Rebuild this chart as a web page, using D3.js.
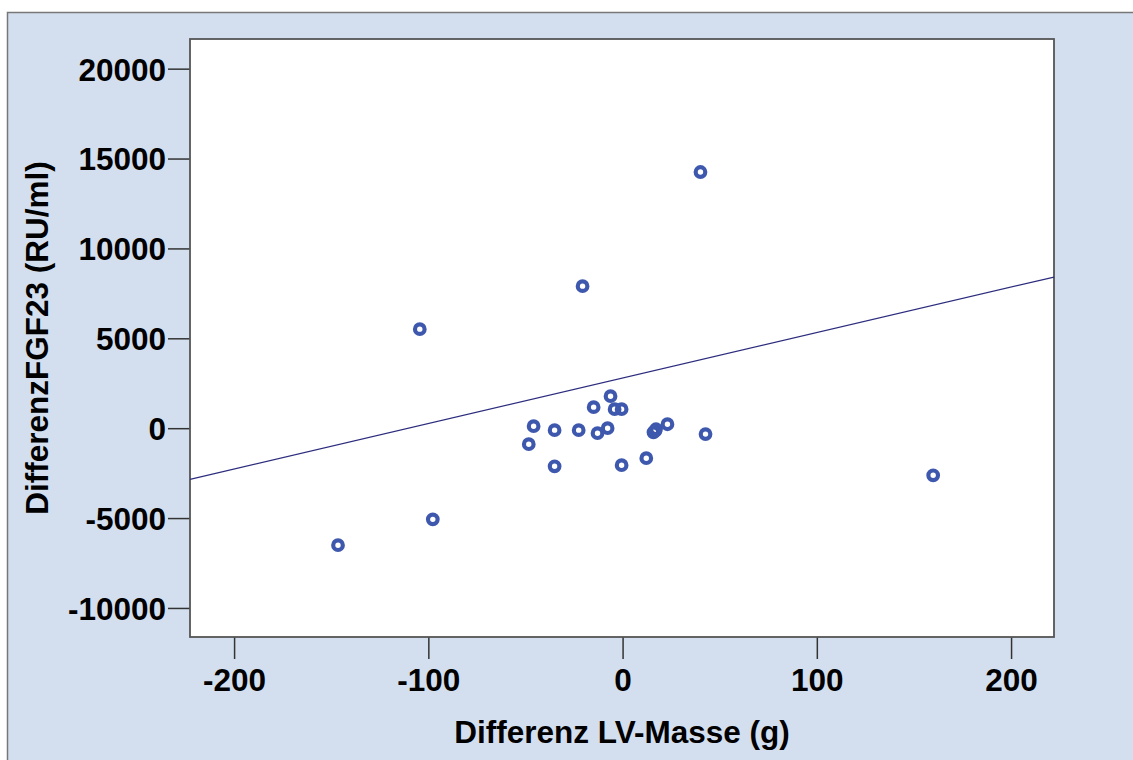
<!DOCTYPE html>
<html>
<head>
<meta charset="utf-8">
<script src="https://cdn.jsdelivr.net/npm/d3@7"></script>
<style>
  body { margin: 0; background: #fff; }
  text { font-family: "Liberation Sans", Arial, sans-serif; font-weight: bold; fill: #000; }
</style>
</head>
<body>
<svg id="chart" width="1133" height="760"></svg>
<script>
// values
const lvMass = [-146.5, -104.4, -97.7, -48.3, -45.8, -35, -35, -22.6, -20.6, -14.9,
  -12.9, -7.7, -6.2, -4.1, -0.5, -0.5, 12.2, 15.9, 17.2, 23.1, 40.1, 42.7, 159.9, 16.8];
const fgf23 = [-6510, 5510, -5070, -890, 110, -110, -2120, -110, 7900, 1170,
  -280, 0, 1780, 1060, 1060, -2060, -1670, -230, -60, 220, 14250, -330, -2620, -150];
const xTicks = [-200, -100, 0, 100, 200];
const yTicks = [-10000, -5000, 0, 5000, 10000, 15000, 20000];
const fitIntercept = 2790;
const fitSlope = 25.3;

const margin = {top: 39, right: 79, bottom: 123, left: 190};
const width = 1133 - margin.left - margin.right,
  height = 760 - margin.top - margin.bottom;
const fontSize = 31.5;

const svg = d3.select('#chart');

// outer panel
svg.append('rect')
  .attr('x', 7.5).attr('y', 12.5)
  .attr('width', 1140).attr('height', 760)
  .attr('fill', '#d3dfee')
  .attr('stroke', '#777').attr('stroke-width', 1.5);

const g = svg.append('g').attr('transform', 'translate(' + margin.left + ',' + margin.top + ')');

const x = d3.scaleLinear().domain([-222.7, 222.1]).range([0, width]);
const y = d3.scaleLinear().domain([-11616, 21650]).range([height, 0]);

g.append('rect')
  .attr('width', width).attr('height', height)
  .attr('fill', '#fff');

// axes (plain hyphen for negatives, like the original)
const fmt = d => String(d);
const xAxis = g.append('g')
  .attr('transform', 'translate(0,' + height + ')')
  .call(d3.axisBottom(x).tickValues(xTicks).tickSize(22).tickPadding(10).tickFormat(fmt));
const yAxis = g.append('g')
  .call(d3.axisLeft(y).tickValues(yTicks).tickSize(22).tickPadding(2).tickFormat(fmt));

[xAxis, yAxis].forEach(a => {
  a.select('.domain').remove();
  a.selectAll('line').attr('stroke', '#333').attr('stroke-width', 1.5);
  a.selectAll('text').attr('font-size', fontSize).attr('font-family', null).attr('fill', '#000');
});
yAxis.selectAll('text').attr('dy', '0.36em');

// frame
g.append('rect')
  .attr('width', width).attr('height', height)
  .attr('fill', 'none')
  .attr('stroke', '#555').attr('stroke-width', 1.8);

// fit line
g.append('line')
  .attr('x1', x(x.domain()[0])).attr('y1', y(fitIntercept + fitSlope * x.domain()[0]))
  .attr('x2', x(x.domain()[1])).attr('y2', y(fitIntercept + fitSlope * x.domain()[1]))
  .attr('stroke', '#2c2c7e').attr('stroke-width', 1.3);

// points
g.selectAll('circle.pt')
  .data(lvMass.map((v, i) => [v, fgf23[i]]))
  .enter().append('circle')
    .attr('class', 'pt')
    .attr('cx', d => x(d[0]))
    .attr('cy', d => y(d[1]))
    .attr('r', 4.8)
    .attr('fill', 'none')
    .attr('stroke', '#3e58ad')
    .attr('stroke-width', 4.2);

// axis titles
svg.append('text')
  .attr('x', margin.left + width / 2).attr('y', 743)
  .attr('text-anchor', 'middle')
  .attr('font-size', fontSize)
  .text('Differenz LV-Masse (g)');

svg.append('text')
  .attr('transform', 'translate(48,' + (margin.top + height / 2) + ') rotate(-90)')
  .attr('text-anchor', 'middle')
  .attr('font-size', fontSize)
  .text('DifferenzFGF23 (RU/ml)');
</script>
</body>
</html>
